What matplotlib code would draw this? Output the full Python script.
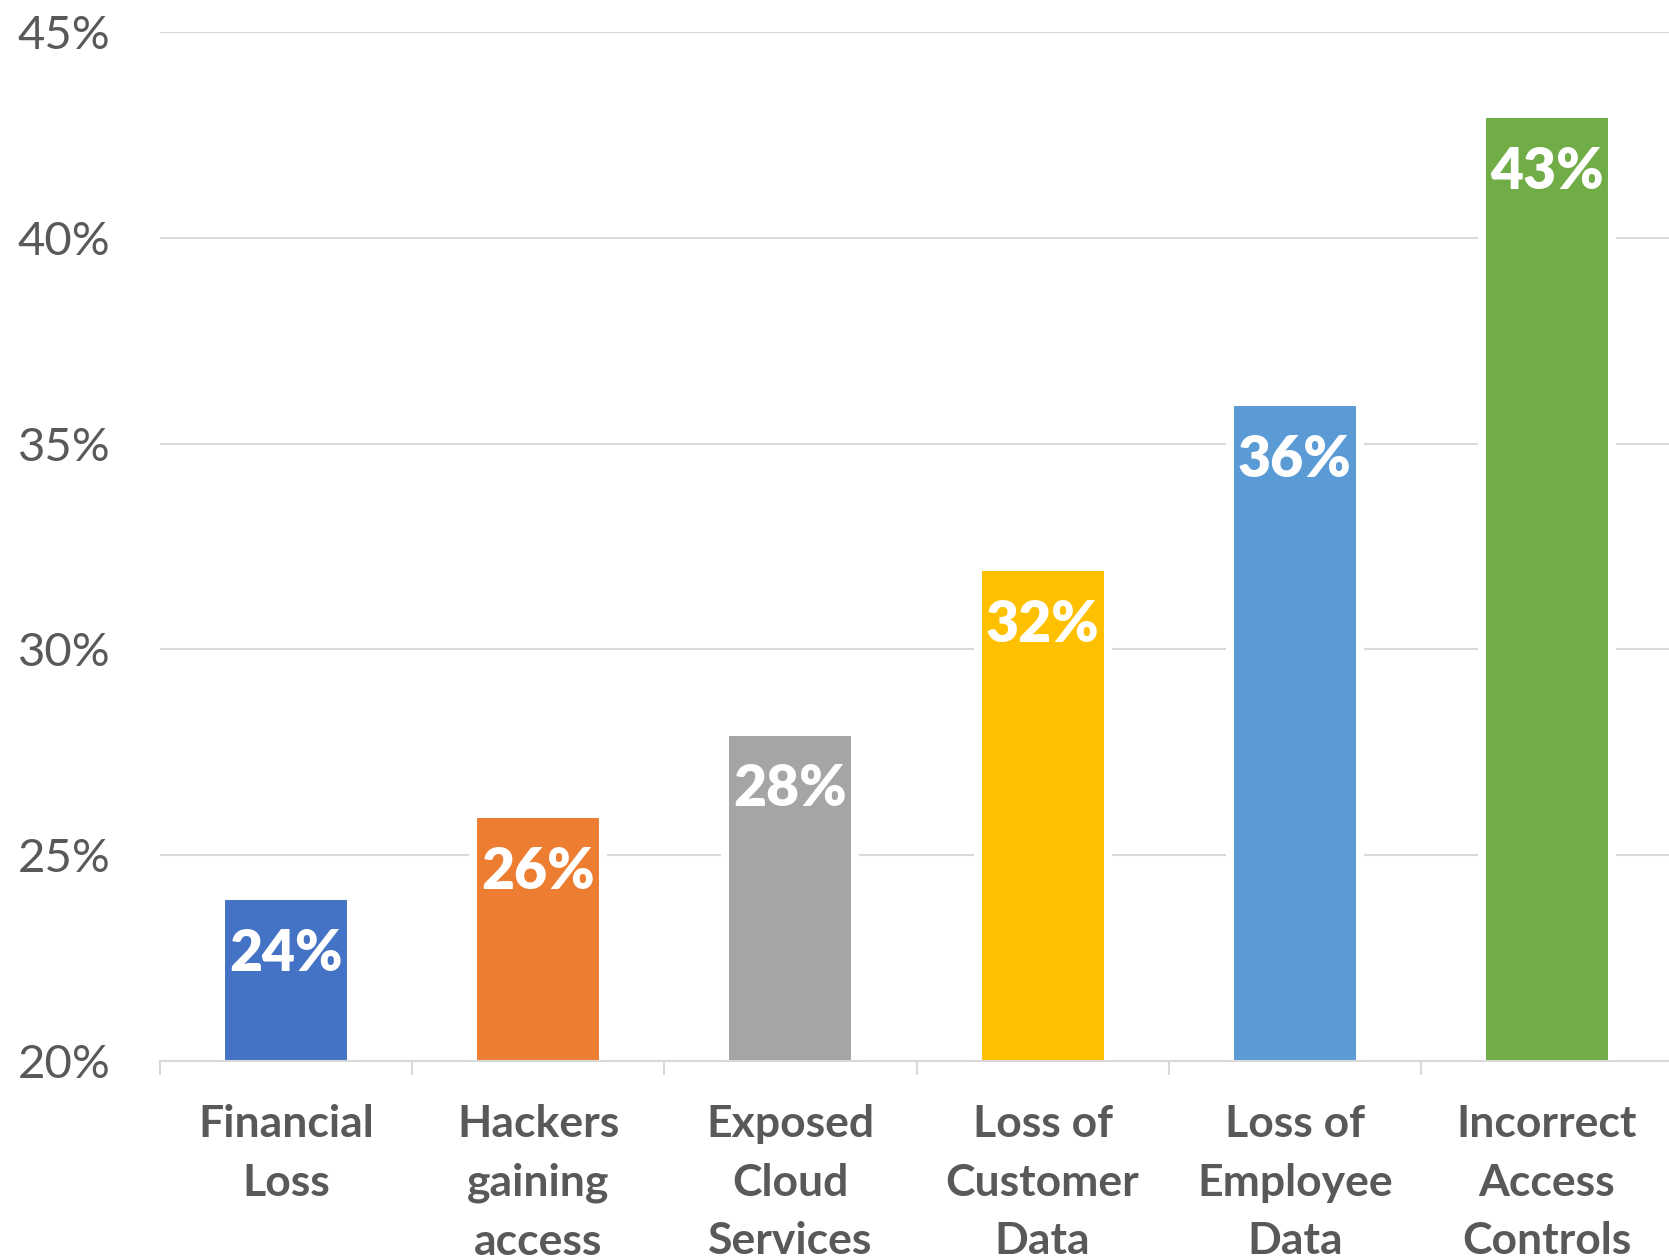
import numpy as np
import matplotlib.pyplot as plt
from matplotlib.ticker import FixedLocator

categories = ['Financial\nLoss', 'Hackers\ngaining\naccess', 'Exposed\nCloud\nServices',
              'Loss of\nCustomer\nData', 'Loss of\nEmployee\nData', 'Incorrect\nAccess\nControls']
values = [24, 26, 28, 32, 36, 43]
yticks = [20, 25, 30, 35, 40, 45]
colors = ['#4472C4', '#ED7D31', '#A5A5A5', '#FFC000', '#5B9BD5', '#70AD47']

plt.rcParams['font.family'] = ['Lato', 'DejaVu Sans']
txt = '#595959'

fig = plt.figure(figsize=(16.69, 12.59), dpi=100)
ax = fig.add_axes([160/1669, 1 - 1061/1259, 1513/1669, (1061-32)/1259])

x = np.arange(len(values))
ax.bar(x, values, width=0.516, color=colors, edgecolor='white', linewidth=5.8, zorder=3)

# labels inside the bars, near the top
for i, v in enumerate(values):
    ax.annotate(f'{v}%', xy=(i, v), xytext=(0, -41.5), textcoords='offset points',
                ha='center', va='center', color='white', fontsize=41, fontweight='heavy', zorder=4)

ax.set_xlim(-0.5, 5.5)
ax.set_ylim(20, 45)
ax.set_yticks(yticks)
ax.set_yticklabels([f'{t}%' for t in yticks])
ax.set_xticks(x)
ax.set_xticklabels(categories)
ax.xaxis.set_minor_locator(FixedLocator(np.arange(-0.5, 6, 1)))

ax.grid(axis='y', color='#D9D9D9', lw=1.5, zorder=0)
for s in ['top', 'right', 'left']:
    ax.spines[s].set_visible(False)
ax.spines['bottom'].set_color('#D9D9D9')
ax.spines['bottom'].set_linewidth(1.5)
ax.spines['bottom'].set_zorder(5)

ax.tick_params(axis='y', length=0, pad=35.5, labelsize=34, labelcolor=txt)
ax.tick_params(axis='x', which='major', length=0, pad=31, labelsize=32, labelcolor=txt)
ax.tick_params(axis='x', which='minor', length=10, width=1.5, color='#D9D9D9')
for lbl in ax.get_xticklabels():
    lbl.set_fontweight('bold')
    lbl.set_linespacing(1.56)
    lbl.set_verticalalignment('top')

fig.savefig('out.png', dpi=100)
